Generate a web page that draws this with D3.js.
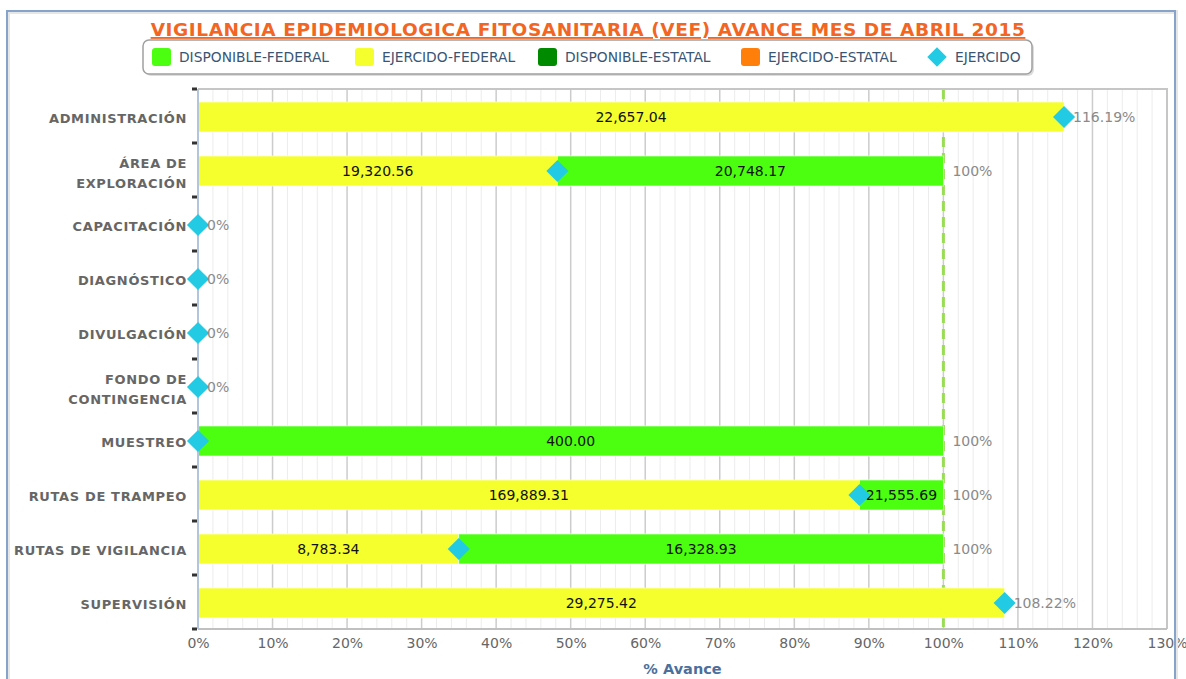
<html>
<head>
<meta charset="utf-8">
<style>
  body { margin: 0; background: #fff; }
  svg text { font-family: "DejaVu Sans", Verdana, sans-serif; }
  .title { fill: #f26522; font-weight: bold; font-size: 18.5px; letter-spacing: 0.6px; text-decoration: underline; }
  .legend text { fill: #3a5573; font-size: 13.8px; }
  .cat { fill: #666; font-weight: bold; font-size: 13px; letter-spacing: 0.65px; }
  .seg { fill: #111; font-size: 14px; }
  .pct { fill: #8a8a8a; font-size: 14px; }
  .xaxis text { fill: #666; font-size: 14px; }
  .xtitle { fill: #4d6f9c; font-weight: bold; font-size: 14.5px; }
</style>
<script src="https://d3js.org/d3.v7.min.js"></script>
</head>
<body>
<svg width="1186" height="679"></svg>
<script>
// ---- data ----
const categories = ["ADMINISTRACIÓN", "ÁREA DE\nEXPLORACIÓN", "CAPACITACIÓN", "DIAGNÓSTICO",
  "DIVULGACIÓN", "FONDO DE\nCONTINGENCIA", "MUESTREO", "RUTAS DE TRAMPEO",
  "RUTAS DE VIGILANCIA", "SUPERVISIÓN"];

// amounts shown inside the bars
const ejercidoFederalAmt   = [22657.04, 19320.56, 0, 0, 0, 0, 0, 169889.31, 8783.34, 29275.42];
const disponibleFederalAmt = [0, 20748.17, 0, 0, 0, 0, 400.00, 21555.69, 16328.93, 0];
const ejercidoEstatalAmt   = [0, 0, 0, 0, 0, 0, 0, 0, 0, 0];
const disponibleEstatalAmt = [0, 0, 0, 0, 0, 0, 0, 0, 0, 0];

// percent lengths of the segments
const ejercidoFederalPct   = [116.19, 48.22, 0, 0, 0, 0, 0, 88.74, 34.98, 108.22];
const disponibleFederalPct = [0, 51.78, 0, 0, 0, 0, 100, 11.26, 65.02, 0];
const ejercidoEstatalPct   = [0, 0, 0, 0, 0, 0, 0, 0, 0, 0];
const disponibleEstatalPct = [0, 0, 0, 0, 0, 0, 0, 0, 0, 0];

// EJERCIDO marker (%)
const ejercidoPct = [116.19, 48.22, 0, 0, 0, 0, 0, 88.74, 34.98, 108.22];

const xTicks = [0, 10, 20, 30, 40, 50, 60, 70, 80, 90, 100, 110, 120, 130];

const legendItems = ["DISPONIBLE-FEDERAL", "EJERCIDO-FEDERAL", "DISPONIBLE-ESTATAL", "EJERCIDO-ESTATAL", "EJERCIDO"];
const colors = {
  "EJERCIDO-FEDERAL": "#f5ff2e",
  "DISPONIBLE-FEDERAL": "#4cff10",
  "EJERCIDO-ESTATAL": "#ff7f0a",
  "DISPONIBLE-ESTATAL": "#008a00",
  "EJERCIDO": "#22cbe3"
};

// ---- build table ----
const rows = categories.map((c, i) => ({
  cat: c,
  "EJERCIDO-FEDERAL": ejercidoFederalPct[i],
  "DISPONIBLE-FEDERAL": disponibleFederalPct[i],
  "EJERCIDO-ESTATAL": ejercidoEstatalPct[i],
  "DISPONIBLE-ESTATAL": disponibleEstatalPct[i],
  amt: {
    "EJERCIDO-FEDERAL": ejercidoFederalAmt[i],
    "DISPONIBLE-FEDERAL": disponibleFederalAmt[i],
    "EJERCIDO-ESTATAL": ejercidoEstatalAmt[i],
    "DISPONIBLE-ESTATAL": disponibleEstatalAmt[i]
  },
  ej: ejercidoPct[i]
}));
const keys = ["EJERCIDO-FEDERAL", "DISPONIBLE-FEDERAL", "EJERCIDO-ESTATAL", "DISPONIBLE-ESTATAL"];
const series = d3.stack().keys(keys)(rows);

const svg = d3.select("svg");
const pLeft = 198, pRight = 1167, pTop = 89, pBottom = 629;

const x = d3.scaleLinear().domain([0, 130]).range([pLeft, pRight]);
const y = d3.scaleBand().domain(categories).range([pTop, pBottom]).padding(0);
const barH = 30, barOff = 13;

// title
svg.append("text").attr("class", "title")
  .attr("x", 588).attr("y", 36).attr("text-anchor", "middle")
  .text("VIGILANCIA EPIDEMIOLOGICA FITOSANITARIA (VEF) AVANCE MES DE ABRIL 2015");

// legend
const lg = svg.append("g").attr("class", "legend");
lg.append("rect").attr("x", 145).attr("y", 42).attr("width", 889).attr("height", 34)
  .attr("rx", 6).attr("fill", "#ddd");
lg.append("rect").attr("x", 143).attr("y", 40).attr("width", 889).attr("height", 34)
  .attr("rx", 6).attr("fill", "#fff").attr("stroke", "#a0a0a0").attr("stroke-width", 1.5);
const legendX = [152, 355, 538, 741, 928];
legendItems.forEach((k, i) => {
  const g = lg.append("g").attr("transform", "translate(" + legendX[i] + ",57)");
  if (k === "EJERCIDO") {
    g.append("path").attr("d", d3.symbol(d3.symbolSquare, 190)())
      .attr("transform", "translate(9,0) rotate(45)").attr("fill", colors[k]);
  } else {
    g.append("rect").attr("x", 0).attr("y", -9).attr("width", 19).attr("height", 18)
      .attr("rx", 3).attr("fill", colors[k]);
  }
  g.append("text").attr("x", 27).attr("y", 5).text(k);
});

// grid
const minor = d3.range(0, 131, 2).filter(v => v % 10 !== 0);
svg.append("g").selectAll("line").data(minor).join("line")
  .attr("x1", d => x(d)).attr("x2", d => x(d)).attr("y1", pTop).attr("y2", pBottom)
  .attr("stroke", "#ececec").attr("stroke-width", 1);
svg.append("g").selectAll("line").data(xTicks.slice(1, -1)).join("line")
  .attr("x1", d => x(d)).attr("x2", d => x(d)).attr("y1", pTop).attr("y2", pBottom)
  .attr("stroke", "#cccccc").attr("stroke-width", 1.5);

// 100% target line
svg.append("line").attr("x1", x(100)).attr("x2", x(100)).attr("y1", pTop).attr("y2", pBottom)
  .attr("stroke", "#99dd55").attr("stroke-width", 3).attr("stroke-dasharray", "10,6");

// plot frame
svg.append("path").attr("d", "M" + pLeft + "," + pTop + "H" + pRight + "V" + pBottom)
  .attr("fill", "none").attr("stroke", "#c6c6c6").attr("stroke-width", 2);
svg.append("line").attr("x1", pLeft).attr("x2", pRight).attr("y1", pBottom).attr("y2", pBottom)
  .attr("stroke", "#c0c0c0").attr("stroke-width", 2);

// bars
const layers = svg.append("g").selectAll("g").data(series).join("g")
  .attr("fill", d => colors[d.key]);
layers.selectAll("rect").data(d => d.filter(s => s[1] - s[0] > 0)).join("rect")
  .attr("x", d => x(d[0])).attr("width", d => x(d[1]) - x(d[0]))
  .attr("y", d => y(d.data.cat) + barOff).attr("height", barH)
  .attr("stroke", "#fff").attr("stroke-width", 0.8).attr("stroke-opacity", 0.7);

// left axis line & category ticks
svg.append("line").attr("x1", pLeft).attr("x2", pLeft).attr("y1", pTop).attr("y2", pBottom)
  .attr("stroke", "#b3c5dc").attr("stroke-width", 2);
svg.append("g").selectAll("rect").data(d3.range(categories.length + 1)).join("rect")
  .attr("x", 192).attr("width", 5).attr("y", i => pTop + i * y.step() - 1.5).attr("height", 3)
  .attr("fill", "#333");

// segment labels
series.forEach(s => {
  svg.append("g").selectAll("text").data(s.filter(d => d[1] - d[0] > 0)).join("text")
    .attr("class", "seg").attr("text-anchor", "middle")
    .attr("x", d => (x(d[0]) + x(d[1])) / 2)
    .attr("y", d => y(d.data.cat) + barOff + barH / 2 + 5)
    .text(d => d3.format(",.2f")(d.data.amt[s.key]));
});

// EJERCIDO markers
svg.append("g").selectAll("path").data(rows).join("path")
  .attr("d", d3.symbol(d3.symbolSquare, 245)())
  .attr("transform", d => "translate(" + x(d.ej) + "," + (y(d.cat) + barOff + barH / 2) + ") rotate(45)")
  .attr("fill", colors["EJERCIDO"]);

// total percent labels
const lastLayer = series[series.length - 1];
svg.append("g").selectAll("text").data(lastLayer).join("text")
  .attr("class", "pct")
  .attr("x", d => x(d[1]) + 9)
  .attr("y", d => y(d.data.cat) + barOff + barH / 2 + 5)
  .text(d => {
    const v = Math.round(d[1] * 100) / 100;
    return (Number.isInteger(v) ? v : v.toFixed(2)) + "%";
  });

// category labels
const cl = svg.append("g").selectAll("text").data(categories).join("text")
  .attr("class", "cat").attr("text-anchor", "end");
cl.each(function (c) {
  const lines = c.split("\n");
  const cy = y(c) + y.bandwidth() / 2;
  const t = d3.select(this);
  lines.forEach((ln, j) => {
    t.append("tspan").attr("x", 187)
      .attr("y", cy + 7 - (lines.length - 1) * 9 + j * 20).text(ln);
  });
});

// x axis
const xa = svg.append("g").attr("class", "xaxis")
  .attr("transform", "translate(0," + pBottom + ")")
  .call(d3.axisBottom(x).tickValues(xTicks).tickFormat(d => d + "%").tickSize(0).tickPadding(9));
xa.select(".domain").remove();

svg.append("text").attr("class", "xtitle").attr("text-anchor", "middle")
  .attr("x", (pLeft + pRight) / 2).attr("y", 674).text("% Avance");

// outer frame
svg.append("path").attr("d", "M7,690V11H1175V690")
  .attr("fill", "none").attr("stroke", "#e6e6e6").attr("stroke-width", 4).attr("transform", "translate(1,1)");
svg.append("path").attr("d", "M7,690V11H1175V690")
  .attr("fill", "none").attr("stroke", "#86a3c9").attr("stroke-width", 2);
</script>
</body>
</html>
